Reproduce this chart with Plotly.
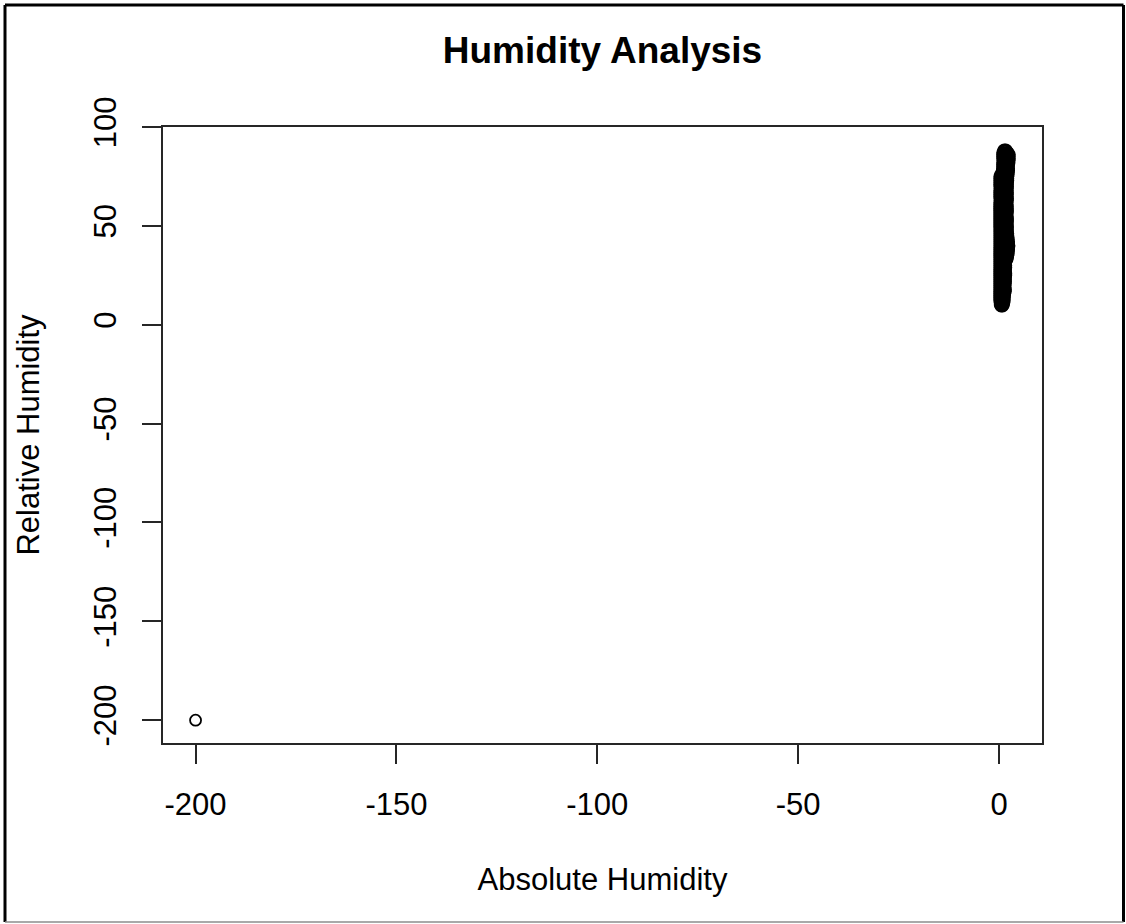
import plotly.graph_objects as go

# Relative humidity (%) of each band of readings, top to bottom
rh_rows = [88.5, 88, 87, 86, 85, 84, 83, 82, 81, 80, 79, 78, 77, 76, 75, 74,
           73, 72, 71, 70, 69, 68, 67, 66, 65, 64, 63, 62, 61, 60, 59, 58,
           57, 56, 55, 54, 53, 52, 51, 50, 49, 48, 47, 46, 45, 44, 43, 42,
           41, 40, 39, 38, 37, 36, 35, 34, 33, 32, 31, 30, 29, 28, 27, 26,
           25, 24, 23, 22, 21, 20, 19, 18, 17, 16, 15, 14, 13, 12, 11, 10,
           9.5]

# Absolute humidity readings observed within each band
ah_rows = [
    [1.3, 1.7],                              # 88.5
    [1.1, 1.5, 1.9],                         # 88
    [0.9, 1.3, 1.7, 2.1, 2.3],               # 87
    [0.9, 1.1, 1.5, 1.9, 2.3, 2.6],          # 86
    [0.9, 1.3, 1.7, 2.1, 2.5],               # 85
    [0.9, 1.2, 1.6, 2.0, 2.4, 2.6],          # 84
    [1.0, 1.4, 1.8, 2.2, 2.5],               # 83
    [0.9, 1.1, 1.5, 1.9, 2.3, 2.5],          # 82
    [0.9, 1.3, 1.7, 2.1, 2.4],               # 81
    [0.9, 1.1, 1.5, 1.9, 2.3],               # 80
    [0.9, 1.2, 1.6, 2.0, 2.4],               # 79
    [0.8, 1.0, 1.4, 1.8, 2.2, 2.4],          # 78
    [0.8, 1.2, 1.6, 2.0, 2.3],               # 77
    [0.4, 0.8, 1.2, 1.6, 2.0, 2.3],          # 76
    [0.2, 0.6, 1.0, 1.4, 1.8, 2.2],          # 75
    [0.2, 0.4, 0.8, 1.2, 1.6, 2.0, 2.2],     # 74
    [0.2, 0.6, 1.0, 1.4, 1.8, 2.2],          # 73
    [0.2, 0.4, 0.8, 1.2, 1.6, 2.0, 2.1],     # 72
    [0.2, 0.6, 1.0, 1.4, 1.8, 2.1],          # 71
    [0.2, 0.4, 0.8, 1.2, 1.6, 1.9, 2.1],     # 70
    [0.3, 0.7, 1.1, 1.5, 1.9, 2.1],          # 69
    [0.2, 0.4, 0.8, 1.2, 1.6, 2.0],          # 68
    [0.2, 0.6, 1.0, 1.4, 1.8, 2.1],          # 67
    [0.2, 0.4, 0.8, 1.2, 1.6, 1.9, 2.1],     # 66
    [0.2, 0.6, 1.0, 1.4, 1.8, 2.0],          # 65
    [0.2, 0.4, 0.8, 1.2, 1.6, 2.0, 2.1],     # 64
    [0.3, 0.7, 1.1, 1.5, 1.9, 2.1],          # 63
    [0.2, 0.4, 0.8, 1.2, 1.6, 1.9, 2.0],     # 62
    [0.2, 0.6, 1.0, 1.4, 1.8, 2.0],          # 61
    [0.2, 0.4, 0.8, 1.2, 1.6, 1.9, 2.1],     # 60
    [0.2, 0.6, 1.0, 1.4, 1.7, 2.0],          # 59
    [0.2, 0.4, 0.8, 1.2, 1.5, 1.9, 2.1],     # 58
    [0.2, 0.5, 0.9, 1.3, 1.7, 2.1],          # 57
    [0.2, 0.4, 0.8, 1.2, 1.6, 1.9, 2.0],     # 56
    [0.2, 0.6, 1.0, 1.4, 1.8, 2.0],          # 55
    [0.2, 0.4, 0.8, 1.2, 1.5, 1.9, 2.1],     # 54
    [0.2, 0.6, 1.0, 1.3, 1.7, 2.1],          # 53
    [0.2, 0.4, 0.8, 1.1, 1.5, 1.9, 2.1],     # 52
    [0.2, 0.5, 0.9, 1.3, 1.7, 2.0],          # 51
    [0.2, 0.4, 0.7, 1.1, 1.5, 1.9, 2.1],     # 50
    [0.2, 0.6, 1.0, 1.4, 1.8, 2.1],          # 49
    [0.2, 0.4, 0.8, 1.2, 1.6, 1.9, 2.1],     # 48
    [0.2, 0.6, 1.0, 1.4, 1.8, 2.1],          # 47
    [0.2, 0.4, 0.8, 1.2, 1.6, 2.0, 2.2],     # 46
    [0.2, 0.6, 1.0, 1.4, 1.8, 2.2],          # 45
    [0.2, 0.4, 0.8, 1.2, 1.6, 2.0, 2.3],     # 44
    [0.2, 0.6, 1.0, 1.4, 1.8, 2.3],          # 43
    [0.2, 0.4, 0.8, 1.2, 1.6, 2.0, 2.4],     # 42
    [0.2, 0.6, 1.0, 1.4, 1.9, 2.4],          # 41
    [0.2, 0.4, 0.8, 1.2, 1.7, 2.1, 2.5],     # 40
    [0.2, 0.6, 1.0, 1.5, 1.9, 2.4],          # 39
    [0.2, 0.4, 0.8, 1.2, 1.6, 2.0, 2.4],     # 38
    [0.2, 0.6, 1.0, 1.4, 1.8, 2.3],          # 37
    [0.2, 0.4, 0.8, 1.2, 1.6, 2.0, 2.3],     # 36
    [0.2, 0.6, 1.0, 1.4, 1.8, 2.2],          # 35
    [0.2, 0.4, 0.8, 1.2, 1.6, 2.0, 2.1],     # 34
    [0.2, 0.6, 1.0, 1.4, 1.7, 2.0],          # 33
    [0.2, 0.4, 0.8, 1.2, 1.5, 1.7],          # 32
    [0.2, 0.5, 0.9, 1.3, 1.6],               # 31
    [0.2, 0.4, 0.7, 1.1, 1.5, 1.7],          # 30
    [0.2, 0.6, 1.0, 1.4, 1.7],               # 29
    [0.2, 0.4, 0.8, 1.2, 1.5, 1.6],          # 28
    [0.2, 0.5, 0.9, 1.3, 1.6],               # 27
    [0.2, 0.4, 0.8, 1.2, 1.5, 1.7],          # 26
    [0.2, 0.6, 1.0, 1.4, 1.7],               # 25
    [0.2, 0.4, 0.7, 1.1, 1.4, 1.6],          # 24
    [0.2, 0.5, 0.9, 1.3, 1.6],               # 23
    [0.2, 0.4, 0.8, 1.2, 1.5, 1.6],          # 22
    [0.2, 0.6, 1.0, 1.4, 1.6],               # 21
    [0.2, 0.4, 0.7, 1.1, 1.4, 1.5],          # 20
    [0.2, 0.5, 0.9, 1.2, 1.5],               # 19
    [0.2, 0.4, 0.8, 1.1, 1.4, 1.6],          # 18
    [0.2, 0.6, 1.0, 1.3, 1.6],               # 17
    [0.2, 0.4, 0.7, 1.1, 1.4],               # 16
    [0.2, 0.5, 0.9, 1.2, 1.4],               # 15
    [0.2, 0.4, 0.8, 1.1, 1.3],               # 14
    [0.2, 0.6, 0.9, 1.3],                    # 13
    [0.2, 0.4, 0.8, 1.1, 1.3],               # 12
    [0.3, 0.6, 1.0, 1.2],                    # 11
    [0.3, 0.7, 1.1],                         # 10
    [0.5, 0.9],                              # 9.5
]

# Missing-value code used by the sensor log
missing_ah = [-200]
missing_rh = [-200]

x_ticks = [-200, -150, -100, -50, 0]
y_ticks = [-200, -150, -100, -50, 0, 50, 100]

abs_humidity = missing_ah + [ah for row in ah_rows for ah in row]
rel_humidity = missing_rh + [rh for rh, row in zip(rh_rows, ah_rows) for _ in row]


def padded(values, frac=0.04):
    lo, hi = min(values), max(values)
    pad = (hi - lo) * frac
    return [lo - pad, hi + pad]


FONT = "Liberation Sans, Arial, sans-serif"
INK = "#000000"
LINE = "#262626"

fig = go.Figure(
    go.Scatter(
        x=abs_humidity,
        y=rel_humidity,
        mode="markers",
        marker=dict(symbol="circle-open", size=11, color=INK,
                    line=dict(width=1.8, color=INK)),
        showlegend=False,
        hoverinfo="x+y",
    )
)

axis_common = dict(
    showgrid=False,
    zeroline=False,
    showline=True,
    mirror=True,
    linecolor=LINE,
    linewidth=2,
    ticks="outside",
    ticklen=19,
    tickwidth=2,
    tickcolor=LINE,
    tickfont=dict(family=FONT, size=31, color=INK),
)

fig.update_layout(
    width=1126,
    height=924,
    margin=dict(l=163, r=84, t=127, b=181),
    paper_bgcolor="white",
    plot_bgcolor="white",
    title=dict(
        text="<b>Humidity Analysis</b>",
        font=dict(family=FONT, size=37, color=INK),
        x=(163 + 1042) / 2 / 1126,
        xanchor="center",
        y=1 - 50 / 924,
        yanchor="middle",
    ),
    xaxis=dict(
        axis_common,
        range=padded(abs_humidity),
        tickvals=x_ticks,
        ticktext=[str(v) for v in x_ticks],
        ticklabelstandoff=14,
        title=dict(text="Absolute Humidity",
                   font=dict(family=FONT, size=31, color=INK), standoff=47),
    ),
    yaxis=dict(
        axis_common,
        range=padded(rel_humidity),
        tickvals=y_ticks,
        ticktext=[str(v) for v in y_ticks],
        tickangle=-90,
        ticklabelstandoff=14,
        title=dict(text="Relative Humidity",
                   font=dict(family=FONT, size=31, color=INK), standoff=39),
    ),
)

# Outer frame around the whole figure
frame = dict(type="line", xref="paper", yref="paper", layer="above")
x_left, x_right = (5 - 163) / 879, (1123.5 - 163) / 879
y_top, y_bottom = (743 - 5) / 616, (743 - 922) / 616
fig.add_shape(frame, x0=x_left, x1=x_left, y0=y_bottom, y1=y_top,
              line=dict(color="#000000", width=3))
fig.add_shape(frame, x0=x_left, x1=x_right, y0=y_top, y1=y_top,
              line=dict(color="#000000", width=3))
fig.add_shape(frame, x0=x_right, x1=x_right, y0=y_bottom, y1=y_top,
              line=dict(color="#000000", width=3))
fig.add_shape(frame, x0=x_left, x1=x_right, y0=y_bottom, y1=y_bottom,
              line=dict(color="#8c8c8c", width=1.5))

fig.write_html("out.html")
